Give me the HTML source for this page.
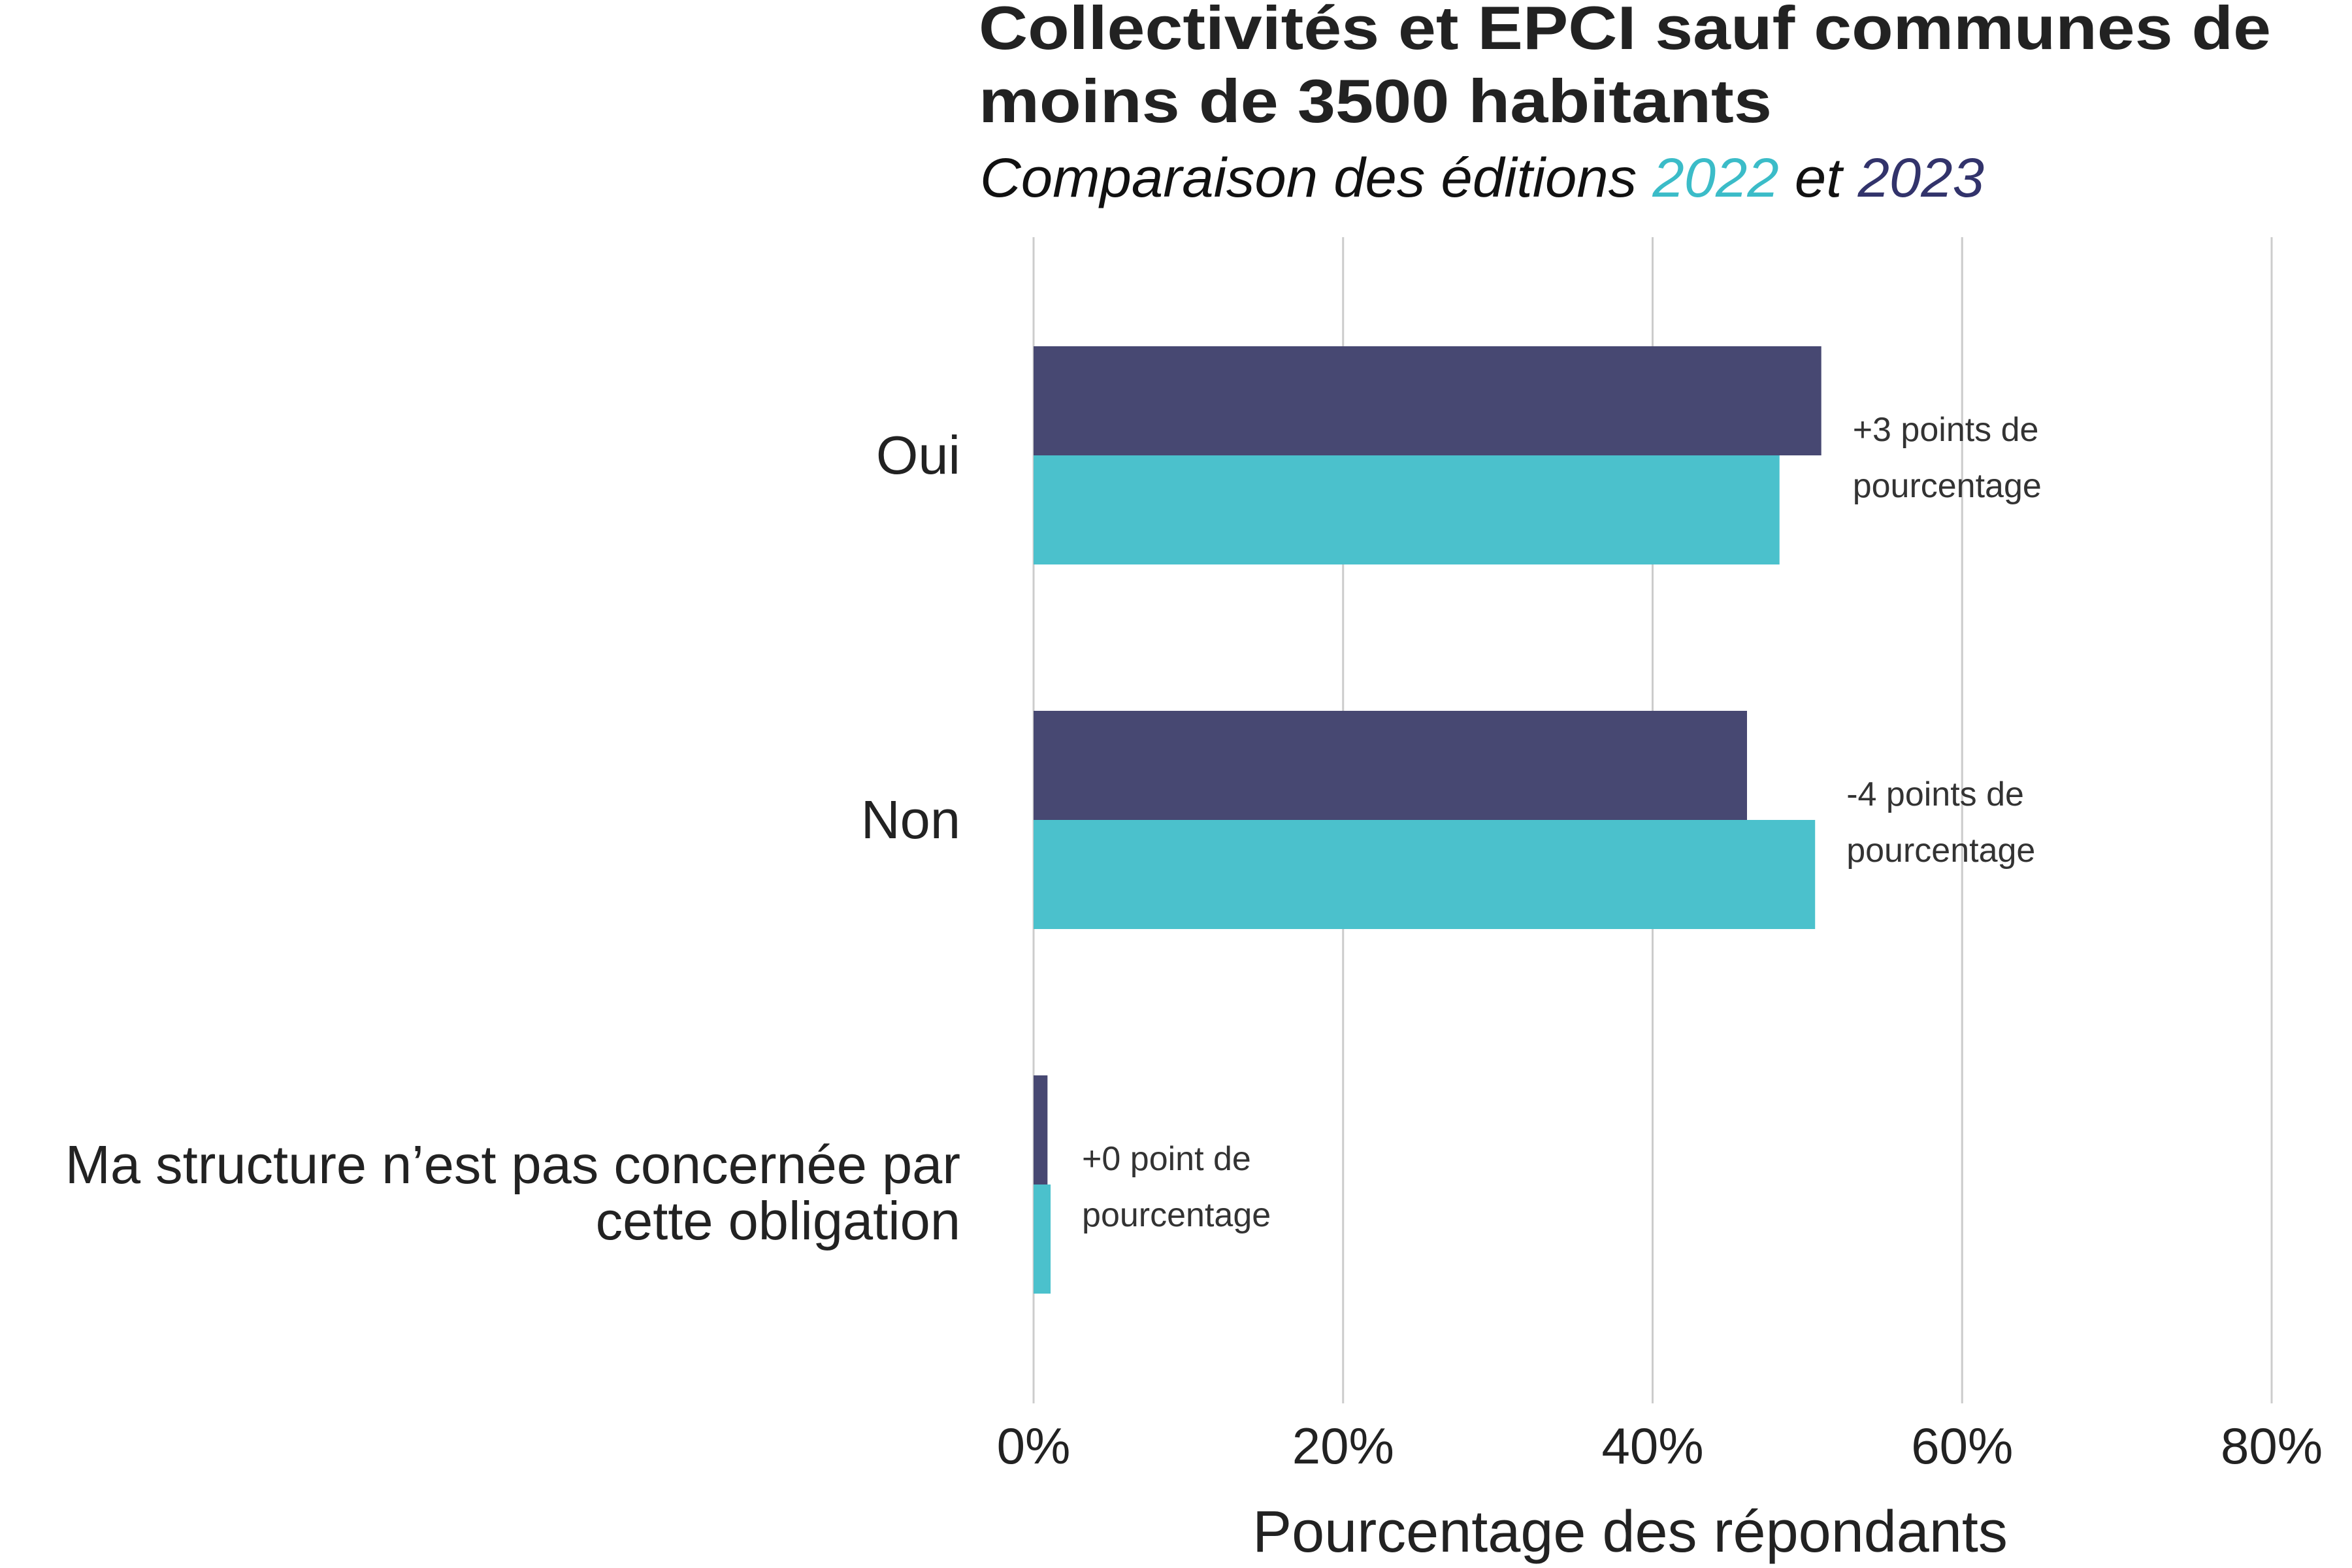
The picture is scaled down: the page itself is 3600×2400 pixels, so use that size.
<!DOCTYPE html>
<html><head><meta charset="utf-8"><style>
html,body{margin:0;padding:0;background:#fff;}
svg{display:block;font-family:"Liberation Sans",sans-serif;}
</style></head><body>
<svg id="chart" width="3600" height="2400" viewBox="0 0 3600 2400">
<text x="1498" y="75" font-size="94" font-weight="bold" fill="#222" textLength="1978" lengthAdjust="spacingAndGlyphs">Collectivités et EPCI sauf communes de</text>
<text x="1498" y="187" font-size="94" font-weight="bold" fill="#222" textLength="1214" lengthAdjust="spacingAndGlyphs">moins de 3500 habitants</text>
<text x="1500" y="301" font-size="84" font-style="italic" fill="#111" textLength="1537" lengthAdjust="spacingAndGlyphs">Comparaison des éditions <tspan fill="#3BBCC8">2022</tspan> et <tspan fill="#32336B">2023</tspan></text>
<g id="grid"></g>
<g id="bars"></g>
<g id="labels"></g>
<text x="2495" y="2375" font-size="90" fill="#222" text-anchor="middle">Pourcentage des répondants</text>
</svg>
<script>
const categories = ["Oui", "Non", "Ma structure n’est pas concernée par|cette obligation"];
const values2023 = [50.9, 46.1, 0.9];
const values2022 = [48.2, 50.5, 1.1];
const annotations = ["+3 points de|pourcentage", "-4 points de|pourcentage", "+0 point de|pourcentage"];
const ticks = [0, 20, 40, 60, 80];
const tickLabels = ["0%", "20%", "40%", "60%", "80%"];

const NS = "http://www.w3.org/2000/svg";
const x0 = 1582, pxPer = (3477 - 1582) / 80;
const xs = v => x0 + v * pxPer;
const yc = i => 697 + i * 558;
const barH = 167;
function mk(tag, attrs, parent){const e=document.createElementNS(NS,tag);for(const k in attrs)e.setAttribute(k,attrs[k]);parent.appendChild(e);return e;}
const grid=document.getElementById('grid'), bars=document.getElementById('bars'), labels=document.getElementById('labels');
ticks.forEach((t,i)=>{
  const l=mk('line',{x1:xs(t),x2:xs(t),y1:363,y2:2148,stroke:'#cccccc','stroke-width':3},grid);
  
  
  const tx=mk('text',{x:xs(t),y:2240,'font-size':78,fill:'#222','text-anchor':'middle'},labels);
  tx.textContent=tickLabels[i];
  
  
});
categories.forEach((c,i)=>{
  const y=yc(i);
  const b1=mk('rect',{x:x0,y:y-barH,width:xs(values2023[i])-x0,height:barH,fill:'#474872'},bars);
  
  
  const b2=mk('rect',{x:x0,y:y,width:xs(values2022[i])-x0,height:barH,fill:'#4BC1CC'},bars);
  
  
  const lines=c.split('|');
  const cl=mk('text',{x:1470,'font-size':83,fill:'#222','text-anchor':'end'},labels);
  
  
  const startY = lines.length===1 ? y+28 : y-2;
  lines.forEach((ln,j)=>{const ts=mk('tspan',{x:1470,y:startY+j*86},cl);ts.textContent=ln;});
  const ax=Math.max(xs(values2023[i]),xs(values2022[i]))+48;
  const an=mk('text',{'font-size':52,fill:'#333'},labels);
  
  
  annotations[i].split('|').forEach((ln,j)=>{const ts=mk('tspan',{x:ax,y:y-22+j*86},an);ts.textContent=ln;});
});
</script>
</body></html>
